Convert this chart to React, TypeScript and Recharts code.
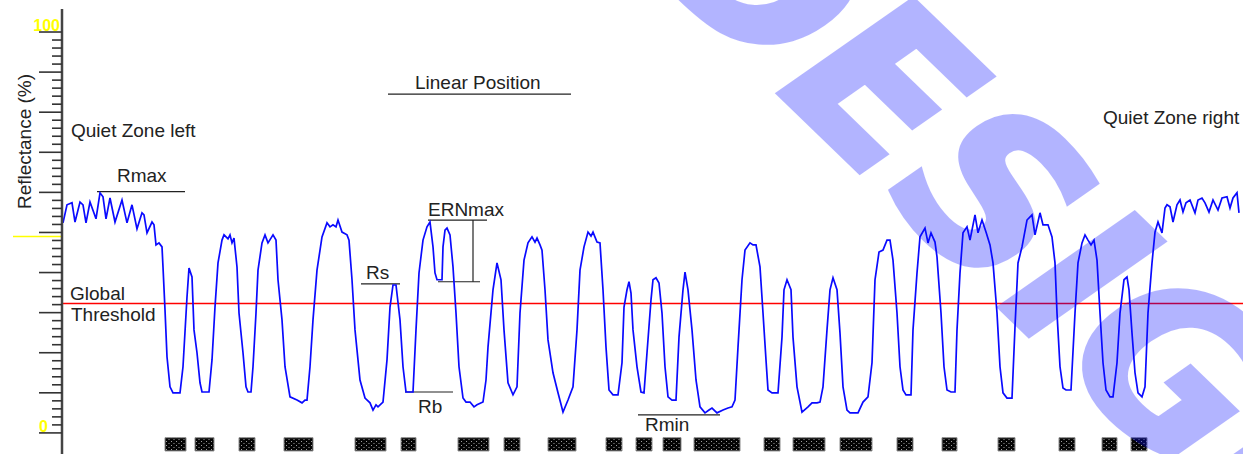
import { LineChart, Line, XAxis, YAxis, ReferenceLine, ReferenceArea } from 'recharts';

// scan position (arbitrary linear units) and measured reflectance (%)
const scanPosition = [
  1, 5, 10, 13, 18, 21, 24, 28, 34, 38, 41, 44, 48, 53, 60, 65, 70, 75, 80, 82, 85, 90, 92, 94, 97, 100,
  101, 103, 105, 108, 111, 118, 121, 125, 127, 130, 132, 135, 138, 140, 147, 150, 153, 156, 160, 162, 166, 168, 170, 172,
  175, 177, 181, 184, 186, 189, 191, 194, 196, 200, 203, 206, 209, 211, 214, 216, 220, 223, 228, 235, 240, 243, 245,
  248, 251, 255, 260, 265, 268, 271, 274, 276, 280, 285, 287, 290, 293, 298, 303, 308, 311, 314, 316, 321,
  325, 328, 331, 334, 338, 341, 344, 351, 354, 357, 361, 365, 368, 371, 373, 375, 380, 381, 383, 385, 388, 391,
  394, 397, 401, 404, 408, 412, 415, 421, 424, 426, 431, 435, 439, 442, 446, 451, 455, 458, 462, 466, 470, 473, 475, 478, 480,
  483, 486, 491, 496, 501, 506, 511, 515, 518, 522, 526, 529, 531, 535, 538, 541, 544, 547, 551, 556,
  560, 562, 565, 567, 569, 571, 575, 579, 582, 585, 589, 591, 594, 597, 600, 603, 606, 610, 614,
  617, 621, 623, 626, 630, 634, 638, 643, 647, 650, 655, 661, 666, 670, 673, 676, 680, 683, 688, 691, 694,
  698, 701, 704, 706, 710, 716, 720, 722, 725, 729, 731, 735, 740, 746, 750, 755, 758,
  761, 765, 768, 771, 775, 778, 781, 785, 788, 796, 801, 806, 810, 813, 817, 821, 825, 828, 831,
  835, 838, 841, 844, 849, 851, 855, 858, 863, 866, 869, 873, 875,
  879, 882, 885, 889, 893, 895, 898, 901, 905, 908, 913, 916, 920, 924, 928, 931,
  935, 938, 941, 945, 950, 953, 956, 960, 965, 970, 973, 978, 981, 986, 990, 993,
  995, 998, 1001, 1004, 1009, 1013, 1016, 1020, 1023, 1026, 1029, 1032, 1035,
  1038, 1041, 1044, 1048, 1051, 1055, 1058, 1062, 1065, 1067, 1070, 1073, 1076, 1080, 1083,
  1086, 1090, 1093, 1096, 1100,
  1103, 1105, 1108, 1111, 1115, 1118, 1121, 1124, 1128, 1133, 1136, 1140, 1143, 1147, 1151, 1156, 1160, 1165, 1168, 1171, 1175, 1177,
];

const reflectance = [
  52.4, 56.9, 57.4, 52.6, 57.6, 56.9, 52.4, 57.6, 53.4, 59.9, 58.9, 53.4, 58.6, 52.6, 58.1, 52.4, 56.9, 50.9, 54.9, 54.4, 49.9, 52.6, 51.9, 46.9, 47.4, 46.4,
  41.4, 30.7, 19.0, 11.5, 10.0, 10.0, 16.5, 33.9, 41.1, 38.9, 25.7, 20.0, 12.5, 10.2, 10.2, 18.2, 31.4, 42.4, 48.1, 49.4, 48.4, 49.4, 47.4, 48.6,
  41.4, 29.9, 20.0, 11.5, 10.2, 10.2, 16.5, 29.9, 40.6, 47.4, 49.4, 47.4, 48.6, 49.4, 48.1, 38.2, 28.2, 16.5, 9.0, 8.2, 7.5, 8.2, 8.2,
  16.5, 28.2, 40.6, 48.9, 52.4, 51.4, 51.9, 51.4, 53.1, 50.1, 49.4, 48.1, 38.2, 25.7, 13.2, 8.7, 7.5, 5.7, 7.0, 6.5, 7.7,
  18.2, 31.4, 36.9, 36.9, 28.2, 16.5, 10.2, 10.2, 25.7, 39.9, 48.1, 51.4, 52.6, 46.4, 39.9, 38.2, 38.2, 46.4, 50.6, 51.1, 49.4, 41.4,
  29.9, 16.5, 8.7, 7.7, 7.7, 6.5, 7.0, 7.7, 13.2, 21.4, 35.7, 42.4, 38.2, 25.7, 12.5, 9.5, 11.5, 29.9, 43.1, 47.4, 48.9, 47.6, 48.6, 46.9, 45.6,
  35.7, 23.2, 15.0, 10.0, 5.2, 8.2, 11.5, 25.7, 40.6, 46.4, 50.1, 49.1, 50.1, 47.6, 47.4, 35.7, 21.4, 10.7, 9.5, 9.5,
  17.5, 31.4, 35.7, 37.7, 34.9, 25.7, 16.5, 10.2, 10.0, 20.0, 33.2, 38.2, 38.7, 37.4, 29.9, 16.5, 9.0, 8.2, 8.2,
  23.9, 35.7, 40.1, 35.7, 25.7, 13.2, 6.5, 5.0, 5.7, 6.2, 5.0, 5.7, 6.2, 6.5, 8.2, 21.4, 38.2, 45.6, 47.4, 46.9, 46.9,
  41.4, 29.9, 18.2, 10.7, 10.0, 10.0, 23.9, 35.7, 38.2, 35.7, 23.9, 11.5, 5.2, 6.5, 7.5, 7.5, 7.7,
  11.5, 25.7, 35.7, 38.7, 35.7, 24.9, 11.5, 5.7, 5.0, 5.0, 7.7, 9.0, 17.5, 38.2, 45.1, 45.6, 48.1, 48.1, 43.1,
  29.9, 16.5, 10.7, 9.5, 9.5, 25.7, 39.9, 48.9, 51.1, 47.4, 49.9, 47.6, 43.9,
  29.9, 16.5, 10.7, 10.2, 10.2, 25.7, 39.9, 49.9, 51.4, 48.1, 54.4, 49.9, 53.1, 50.1, 46.9, 42.4,
  29.9, 16.5, 10.0, 8.7, 8.7, 26.4, 42.4, 46.4, 53.1, 54.4, 49.4, 54.9, 51.9, 51.9, 48.9, 42.4,
  29.9, 16.5, 11.2, 10.7, 10.7, 29.9, 42.4, 47.4, 49.4, 48.1, 46.9, 48.1, 43.1,
  29.9, 17.5, 10.7, 9.0, 9.0, 17.5, 29.9, 38.2, 38.9, 35.7, 24.9, 15.0, 10.0, 9.0, 11.5,
  29.9, 42.4, 50.1, 52.6, 49.9,
  56.1, 56.9, 56.4, 52.6, 56.9, 58.1, 55.1, 57.4, 58.1, 54.9, 58.1, 58.6, 57.4, 55.1, 58.1, 55.6, 58.6, 58.9, 56.1, 58.6, 59.9, 54.9,
];

// decoded bars under the profile (start / end position)
const barStart = [103, 133, 177, 222, 293, 339, 396, 442, 486, 544, 574, 601, 632, 702, 731, 778, 835, 880, 936, 997, 1040, 1069];
const barEnd = [124, 152, 193, 251, 324, 354, 427, 458, 514, 560, 590, 619, 678, 718, 763, 810, 851, 895, 953, 1013, 1055, 1085];

const globalThreshold = 32.3;
const yellowMark = 49;
const axisTicks = Array.from({ length: 51 }, (_, i) => i * 2);

// annotation levels (%), spans in position units
const rmaxLevel = 60.2;
const rsLevel = 37.2;
const ernTop = 53.1;
const ernBottom = 37.7;
const rbLevel = 10.2;
const rminLevel = 4.5;
const linearPosLevel = 84.5;

const data = scanPosition.map((p, i) => ({ pos: p, r: reflectance[i] }));

const FONT = '"Liberation Sans", Arial, sans-serif';

function AxisTick(props: any) {
  const { x, y, payload } = props;
  const v = payload.value;
  const len = v % 10 === 0 ? 23 : 10;
  return (
    <g>
      <line x1={x - len} x2={x} y1={y} y2={y} stroke="#333" strokeWidth={1.6} />
      {v === 100 && (
        <text x={x - 2} y={y - 1} textAnchor="end" fontFamily={FONT} fontWeight="bold" fontSize={16} fill="#ffff00">
          100
        </text>
      )}
      {v === 0 && (
        <text x={x - 14} y={y - 1} textAnchor="end" fontFamily={FONT} fontWeight="bold" fontSize={16} fill="#ffff00">
          0
        </text>
      )}
    </g>
  );
}

const labelStyle = { fontFamily: FONT, fontSize: 19, fill: '#222' };

export default function App() {
  return (
    <div style={{ position: 'relative', width: 1243, height: 454 }}>
      <style>{'body{margin:0}'}</style>
      <LineChart width={1243} height={454} data={data} margin={{ top: 9, right: 0, bottom: 0, left: 0 }}>
        <XAxis type="number" dataKey="pos" domain={[0, 1181]} hide />
        <YAxis
          type="number"
          domain={[-5.26, 105.74]}
          ticks={axisTicks}
          interval={0}
          width={62}
          tickSize={0}
          tickMargin={0}
          tickLine={false}
          axisLine={{ stroke: '#444', strokeWidth: 2.5 }}
          tick={(p: any) => <AxisTick {...p} />}
        />
        {barStart.map((s, i) => (
          <ReferenceArea
            key={i}
            x1={s}
            x2={barEnd[i]}
            y1={-4.5}
            y2={-1.2}
            fill="url(#barDots)"
            fillOpacity={1}
            stroke="#8a8a8a"
            strokeWidth={1}
          />
        ))}
        <ReferenceLine y={globalThreshold} stroke="#ff0000" strokeWidth={1.5} />
        <ReferenceLine
          segment={[{ x: -49, y: yellowMark }, { x: 0, y: yellowMark }]}
          stroke="#ffff00"
          strokeWidth={1.5}
          ifOverflow="visible"
        />
        <ReferenceLine segment={[{ x: 35, y: rmaxLevel }, { x: 123, y: rmaxLevel }]} stroke="#222" strokeWidth={1.2} />
        <ReferenceLine segment={[{ x: 326, y: linearPosLevel }, { x: 509, y: linearPosLevel }]} stroke="#222" strokeWidth={1.2} />
        <ReferenceLine segment={[{ x: 299, y: rsLevel }, { x: 338, y: rsLevel }]} stroke="#222" strokeWidth={1.2} />
        <ReferenceLine segment={[{ x: 366, y: ernTop }, { x: 425, y: ernTop }]} stroke="#222" strokeWidth={1.2} />
        <ReferenceLine segment={[{ x: 411, y: ernTop }, { x: 411, y: ernBottom }]} stroke="#222" strokeWidth={1.2} />
        <ReferenceLine segment={[{ x: 376, y: ernBottom }, { x: 418, y: ernBottom }]} stroke="#222" strokeWidth={1.2} />
        <ReferenceLine segment={[{ x: 343, y: rbLevel }, { x: 391, y: rbLevel }]} stroke="#222" strokeWidth={1.2} />
        <ReferenceLine segment={[{ x: 576, y: rminLevel }, { x: 658, y: rminLevel }]} stroke="#222" strokeWidth={1.2} />
        <Line type="linear" dataKey="r" stroke="#0a0aff" strokeWidth={1.7} dot={false} isAnimationActive={false} />
      </LineChart>

      <svg width={1243} height={454} style={{ position: 'absolute', left: 0, top: 0, pointerEvents: 'none' }}>
        <defs>
          <pattern id="barDots" width="5" height="4" patternUnits="userSpaceOnUse">
            <rect width="5" height="4" fill="#050505" />
            <rect x="1" y="1" width="1" height="1" fill="#a0a0a0" />
            <rect x="3.5" y="3" width="1" height="1" fill="#a0a0a0" />
          </pattern>
        </defs>
        <text x={31} y={141.5} textAnchor="middle" transform="rotate(-90 31 141.5)" style={labelStyle}>
          Reflectance (%)
        </text>
        <text x={71} y={137} style={labelStyle}>Quiet Zone left</text>
        <text x={117} y={182} style={labelStyle}>Rmax</text>
        <text x={415} y={89} style={labelStyle}>Linear Position</text>
        <text x={70} y={300} style={labelStyle}>Global</text>
        <text x={71} y={321} style={labelStyle}>Threshold</text>
        <text x={366} y={279} style={labelStyle}>Rs</text>
        <text x={428} y={216} style={labelStyle}>ERNmax</text>
        <text x={418} y={413} style={labelStyle}>Rb</text>
        <text x={645} y={431} style={labelStyle}>Rmin</text>
        <text x={1103} y={124} style={labelStyle}>Quiet Zone right</text>
        <g opacity={0.3} transform="translate(633,-47) scale(1.216,1) rotate(49.6)">
          <text
            x={0}
            y={0}
            fontFamily='"DejaVu Sans", sans-serif'
            fontWeight="bold"
            fontSize={200}
            fill="rgb(5,10,255)"
            stroke="rgb(5,10,255)"
            strokeWidth={4}
            strokeLinejoin="miter"
          >
            DESIGN
          </text>
        </g>
      </svg>
    </div>
  );
}
